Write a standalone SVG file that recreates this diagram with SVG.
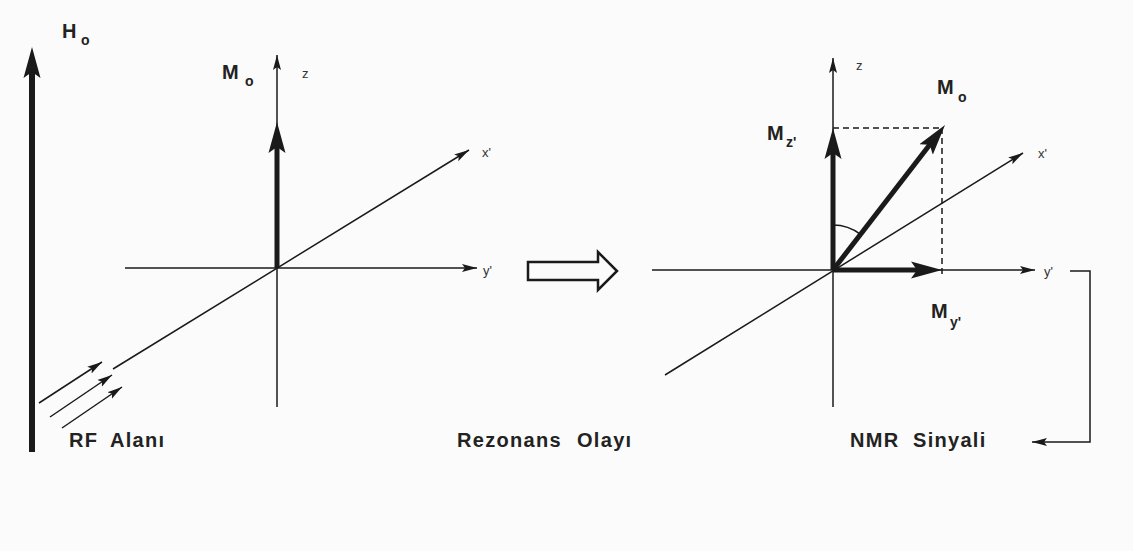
<svg xmlns="http://www.w3.org/2000/svg" width="1133" height="551" viewBox="0 0 1133 551">
<style>
.bg{fill:#fbfbfb}
.thin{stroke:#1a1a1a;stroke-width:1.5;fill:none}
.thick{stroke:#1a1a1a;stroke-width:5;fill:none}
.dash{stroke:#1a1a1a;stroke-width:1.5;fill:none;stroke-dasharray:6,4}
.lab{font-family:"Liberation Sans",Arial,sans-serif;font-weight:bold;fill:#222;font-size:20px;letter-spacing:1.3px}
.big{font-family:"Liberation Sans",Arial,sans-serif;font-weight:bold;fill:#222;font-size:20px}
.sub{font-family:"Liberation Sans",Arial,sans-serif;font-weight:bold;fill:#222;font-size:14px}
.ax{font-family:"Liberation Sans",Arial,sans-serif;fill:#333;font-size:13px}
.head{fill:#1a1a1a}
</style>
<defs>
<marker id="th" markerWidth="16" markerHeight="10" refX="15" refY="5" orient="auto" markerUnits="userSpaceOnUse">
<path d="M0,1 L15,5 L0,9 L3,5 Z" class="head"/>
</marker>
<marker id="bh" markerWidth="32" markerHeight="18" refX="11" refY="9" orient="auto" markerUnits="userSpaceOnUse">
<path d="M0,0.5 L31,9 L0,17.5 L6,9 Z" class="head"/>
</marker>
</defs>
<rect class="bg" x="0" y="0" width="1133" height="551"/>

<g id="field-H0">
<line class="thick" x1="32" y1="452" x2="32" y2="67" style="stroke-width:6" marker-end="url(#bh)"/>
<text class="big" x="62" y="38">H</text>
<text class="sub" x="81" y="45">o</text>
</g>

<g id="rf-field">
<line class="thin" x1="39" y1="403" x2="102" y2="362" marker-end="url(#th)"/>
<line class="thin" x1="50" y1="417" x2="112" y2="375" marker-end="url(#th)"/>
<line class="thin" x1="62" y1="428" x2="122" y2="387" marker-end="url(#th)"/>
<text class="lab" x="69" y="447">RF</text>
<text class="lab" x="110" y="447">Alanı</text>
</g>

<g id="left-axes">
<line class="thin" x1="277" y1="407" x2="277" y2="55" marker-end="url(#th)"/>
<line class="thin" x1="125" y1="268" x2="477" y2="268" marker-end="url(#th)"/>
<line class="thin" x1="113" y1="369" x2="469" y2="150" marker-end="url(#th)"/>
<text class="ax" x="302" y="78">z</text>
<text class="ax" x="482" y="157">x'</text>
<text class="ax" x="483" y="275">y'</text>
</g>

<g id="left-M0">
<line class="thick" x1="277" y1="268" x2="277" y2="142" marker-end="url(#bh)"/>
<text class="big" x="222" y="79">M</text>
<text class="sub" x="245" y="86">o</text>
</g>

<g id="resonance">
<path d="M528,262 L598,262 L598,252 L617,271 L598,290 L598,280 L528,280 Z" fill="#fbfbfb" stroke="#1a1a1a" stroke-width="2.5" stroke-linejoin="miter"/>
<text class="lab" x="457" y="447">Rezonans</text>
<text class="lab" x="577" y="447">Olayı</text>
</g>

<g id="right-axes">
<line class="thin" x1="833" y1="407" x2="833" y2="58" marker-end="url(#th)"/>
<line class="thin" x1="652" y1="270" x2="1035" y2="270" marker-end="url(#th)"/>
<line class="thin" x1="665" y1="375" x2="1023" y2="153" marker-end="url(#th)"/>
<text class="ax" x="856" y="70">z</text>
<text class="ax" x="1038" y="158">x'</text>
<text class="ax" x="1044" y="276">y'</text>
</g>

<g id="right-vectors">
<line class="dash" x1="833" y1="128" x2="942" y2="128"/>
<line class="dash" x1="942" y1="128" x2="942" y2="274"/>
<line class="thick" x1="833" y1="270" x2="833" y2="148" marker-end="url(#bh)"/>
<line class="thick" x1="833" y1="270" x2="932.8" y2="140.8" marker-end="url(#bh)"/>
<line class="thick" x1="833" y1="270" x2="922" y2="270" marker-end="url(#bh)"/>
<path class="thin" d="M833,225 A45,45 0 0 1 860.5,234.4"/>
<text class="big" x="937" y="94">M</text>
<text class="sub" x="958" y="102">o</text>
<text class="big" x="767" y="140">M</text>
<text class="sub" x="786" y="147">z'</text>
<text class="big" x="931" y="318">M</text>
<text class="sub" x="950" y="327">y'</text>
</g>

<g id="connectors">
<polyline class="thin" points="1070,271 1090,271 1090,442 1032,442" marker-end="url(#th)"/>
</g>

<g id="nmr-signal">
<text class="lab" x="850" y="447">NMR</text>
<text class="lab" x="913" y="447">Sinyali</text>
</g>
</svg>
